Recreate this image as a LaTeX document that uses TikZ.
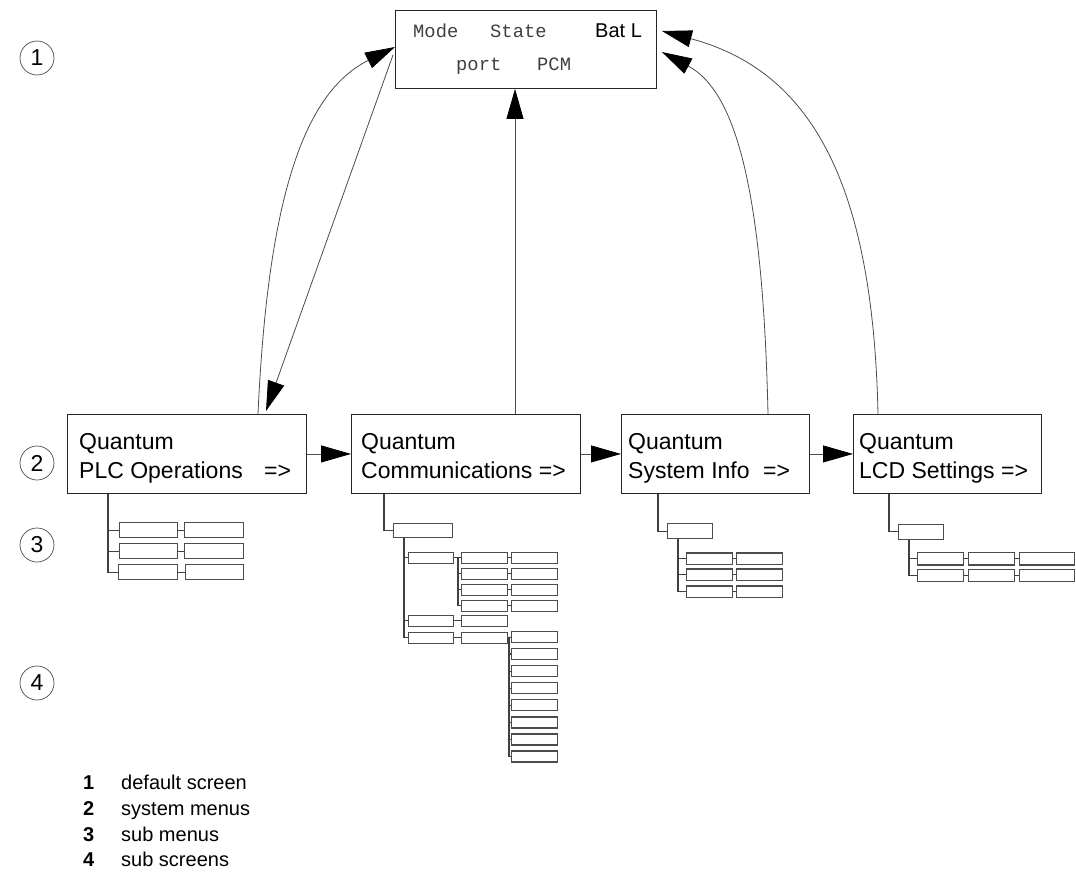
\documentclass[tikz,border=0pt]{standalone}
\usepackage{fontspec}
\setmainfont{Liberation Sans}
\newfontfamily\monof{Liberation Mono}
\usetikzlibrary{arrows.meta,calc}
\begin{document}
\begin{tikzpicture}[x=1pt,y=-1pt,
  menu/.style={draw=black!85, line width=0.9pt, anchor=north west, inner sep=0pt},
  sb/.style 2 args={draw=black!70, line width=1.3pt, anchor=north west, inner sep=0pt, minimum width=#1pt, minimum height=#2pt},
  tree/.style={draw=black!75, line width=1.1pt},
  arr/.style={draw=black!70, line width=0.8pt, -{Triangle[length=30pt,width=17pt,color=black]}},
  txt/.style={anchor=base west, inner sep=0pt, font=\fontsize{23}{23}\selectfont},
  mono/.style={anchor=base west, inner sep=0pt, text=black!75, font=\monof\fontsize{18.8}{19}\selectfont},
  circ/.style={circle, draw=black!70, line width=0.7pt, minimum size=34pt, inner sep=0pt, font=\fontsize{23}{23}\selectfont},
  legnum/.style={anchor=base west, inner sep=0pt, font=\bfseries\fontsize{20}{20}\selectfont},
  legtxt/.style={anchor=base west, inner sep=0pt, font=\fontsize{20}{20}\selectfont}
]
\useasboundingbox (0,0) rectangle (1076,872);

% default screen
\node[menu, minimum width=261pt, minimum height=78pt] (top) at (395,10) {};
\node[mono] (tmode) at (413,38) {Mode};
\node[mono] (tstate) at (490,38) {State};
\node[anchor=base west, inner sep=0pt, font=\fontsize{20}{20}\selectfont] (tbat) at (595,38) {Bat L};
\node[mono] (tport) at (456,71) {port};
\node[mono] (tpcm) at (537,71) {PCM};

% system menus
\node[menu, minimum width=239pt, minimum height=79pt] (plc) at (67,414) {};
\node[menu, minimum width=229pt, minimum height=79pt] (comm) at (351,414) {};
\node[menu, minimum width=188pt, minimum height=79pt] (sys) at (621,414) {};
\node[menu, minimum width=188pt, minimum height=79pt] (lcd) at (853,414) {};

\node[txt] (plcq) at (79,449.5) {Quantum};
\node[txt] (plcl) at (79,478) {PLC Operations};
\node[txt] (plca) at (264,478) {=>};
\node[txt] (commq) at (361,449.5) {Quantum};
\node[txt] (comml) at (361,478) {Communications =>};
\node[txt] (sysq) at (628,449.5) {Quantum};
\node[txt] (sysl) at (628,478) {System Info};
\node[txt] (sysa) at (763,478) {=>};
\node[txt] (lcdq) at (859,449.5) {Quantum};
\node[txt] (lcdl) at (859,478) {LCD Settings =>};

% horizontal arrows
\draw[arr] (plc.east) -- (comm.west);
\draw[arr] (comm.east) -- (sys.west);
\draw[arr] (sys.east) -- (lcd.west);

% arrows to the default screen
\coordinate (pcx) at (258,0);
\coordinate (vx) at (515,0);
\coordinate (sx) at (768,0);
\coordinate (lx) at (878,0);
\draw[arr] (plc.north -| pcx) .. controls +(10,-220) and +(-90,45) .. ($(top.north west)+(0,37)$);
\draw[arr] ($(top.north west)+(-2,45)$) -- ($(plc.north west)+(199,-3)$);
\draw[arr] (comm.north -| vx) -- (top.south -| vx);
\draw[arr] (sys.north -| sx) .. controls +(-5,-220) and +(75,40) .. ($(top.north east)+(5,42)$);
\draw[arr] (lcd.north -| lx) .. controls +(-5,-230) and +(150,40) .. ($(top.north east)+(5,21)$);

% PLC sub menus
\node[sb={58}{15}] (p11) at (119,522) {};
\node[sb={59}{15}] (p12) at (184,522) {};
\node[sb={58}{15}] (p21) at (119,543) {};
\node[sb={59}{15}] (p22) at (184,543) {};
\node[sb={59}{15}] (p31) at (118,564) {};
\node[sb={58}{15}] (p32) at (185,564) {};
\coordinate (ptx) at (108,0);
\draw[tree] (plc.south -| ptx) |- (p31.west);
\draw[tree] (ptx |- p11.west) -- (p11.west);
\draw[tree] (ptx |- p21.west) -- (p21.west);
\draw[tree] (p11) -- (p12);
\draw[tree] (p21) -- (p22);
\draw[tree] (p31) -- (p32);

% Communications sub menus
\node[sb={59}{14}] (cr) at (393,523) {};
\coordinate (ctx) at (384,0);
\draw[tree] (comm.south -| ctx) |- (cr.west);
\node[sb={45}{11}] (c1) at (408,551.5) {};
\node[sb={45}{11.5}] (c2) at (408,614.5) {};
\node[sb={45}{11.5}] (c3) at (408,631.5) {};
\coordinate (c2x) at (404,0);
\draw[tree] (cr.south -| c2x) |- (c3.west);
\draw[tree] (c2x |- c1.west) -- (c1.west);
\draw[tree] (c2x |- c2.west) -- (c2.west);
\foreach \i/\yy in {1/551.5,2/567.5,3/583.5,4/599.5}{
  \node[sb={46}{11}] (c1a\i) at (461,\yy) {};
  \node[sb={46}{11}] (c1b\i) at (511,\yy) {};
  \draw[tree] (c1a\i) -- (c1b\i);
}
\coordinate (c3x) at (458,0);
\draw[tree] (c1) -- (c1a1);
\draw[tree] (c3x |- c1a1.west) |- (c1a4.west);
\draw[tree] (c3x |- c1a2.west) -- (c1a2.west);
\draw[tree] (c3x |- c1a3.west) -- (c1a3.west);
\node[sb={46}{11.5}] (c2a) at (461,614.5) {};
\node[sb={46}{11.5}] (c3a) at (461,631.5) {};
\draw[tree] (c2) -- (c2a);
\draw[tree] (c3) -- (c3a);
\foreach \i in {1,...,8}{
  \node[sb={46}{11}] (s\i) at (511,{630.7+(\i-1)*17.1}) {};
}
\coordinate (c4x) at (509,0);
\draw[tree] (c3a) -- (s1);
\draw[tree] (c4x |- s1.west) |- (s8.west);
\foreach \i in {2,...,7}{
  \draw[tree] (c4x |- s\i.west) -- (s\i.west);
}

% System Info sub menus
\node[sb={45}{15}] (sr) at (667,523) {};
\coordinate (stx) at (658,0);
\draw[tree] (sys.south -| stx) |- (sr.west);
\foreach \i/\yy in {1/552.3,2/568.3,3/585.3}{
  \node[sb={46}{11.5}] (sia\i) at (686,\yy) {};
  \node[sb={46}{11.5}] (sib\i) at (736,\yy) {};
  \draw[tree] (sia\i) -- (sib\i);
}
\coordinate (st2) at (678,0);
\draw[tree] (sr.south -| st2) |- (sia3.west);
\draw[tree] (st2 |- sia1.west) -- (sia1.west);
\draw[tree] (st2 |- sia2.west) -- (sia2.west);

% LCD Settings sub menus
\node[sb={45}{15}] (lr) at (898,523.5) {};
\coordinate (ltx) at (889,0);
\draw[tree] (lcd.south -| ltx) |- (lr.west);
\foreach \i/\yy in {1/552,2/568.7}{
  \node[sb={45.5}{12.3}] (la\i) at (917,\yy) {};
  \node[sb={46}{12.3}] (lb\i) at (968,\yy) {};
  \node[sb={55}{12.3}] (lc\i) at (1019,\yy) {};
  \draw[tree] (la\i) -- (lb\i);
  \draw[tree] (lb\i) -- (lc\i);
}
\coordinate (lt2) at (909,0);
\draw[tree] (lr.south -| lt2) |- (la2.west);
\draw[tree] (lt2 |- la1.west) -- (la1.west);

% level circles
\node[circ] (n1) at (37,58) {1};
\node[circ] (n2) at (37,463) {2};
\node[circ] (n3) at (37,545) {3};
\node[circ] (n4) at (37,683) {4};

% legend
\node[legnum] (l1) at (83,789) {1};
\node[legtxt] (l1t) at (121,789) {default screen};
\node[legnum] (l2) at (83,815) {2};
\node[legtxt] (l2t) at (121,815) {system menus};
\node[legnum] (l3) at (83,841) {3};
\node[legtxt] (l3t) at (121,841) {sub menus};
\node[legnum] (l4) at (83,866) {4};
\node[legtxt] (l4t) at (121,866) {sub screens};
\end{tikzpicture}
\end{document}
